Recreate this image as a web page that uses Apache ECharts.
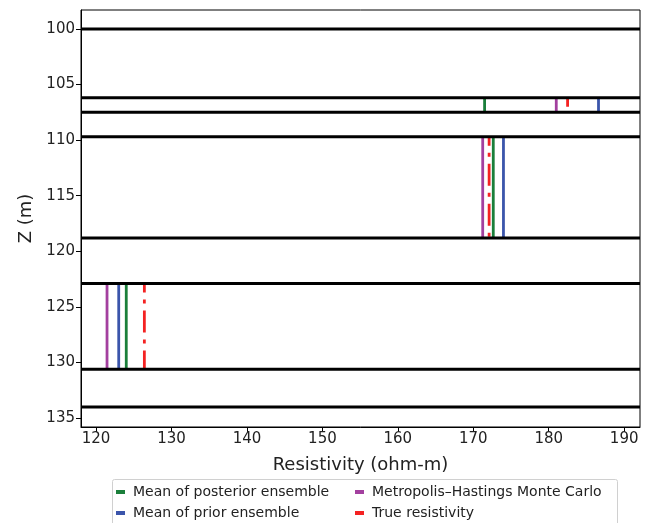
<!DOCTYPE html>
<html>
<head>
<meta charset="utf-8">
<script src="https://cdn.jsdelivr.net/npm/echarts@6/dist/echarts.min.js"></script>
<style>
    html, body { margin: 0; padding: 0; background: #fff; }
    #chart { width: 666px; height: 523px; }
</style>
</head>
<body>
<div id="chart"></div>
<script>
    // layer boundaries (Z, m)
    const boundaries = [100, 106.2, 107.5, 109.7, 118.8, 122.9, 130.6, 134]
    // layers where estimates are plotted: [top, bottom]
    const layers = [[106.2, 107.5], [109.7, 118.8], [122.9, 130.6]]
    // resistivity per layer (ohm-m)
    const posteriorMean = [171.5, 172.65, 124.0]
    const priorMean = [186.6, 174.0, 123.0]
    const mhmc = [181.0, 171.25, 121.45]
    const trueRes = [182.5, 172.1, 126.4]

    const xTicks = [120, 130, 140, 150, 160, 170, 180, 190]
    const yTicks = [100, 105, 110, 115, 120, 125, 130, 135]

    const X_MIN = 118, X_MAX = 192.1
    const FONT = 'DejaVu Sans'

    // build vertical segments, broken with '-' between layers
    function segments(vals) {
        const out = []
        vals.forEach((v, i) => {
            if (i > 0) out.push(['-', '-'])
            out.push([v, layers[i][0]], [v, layers[i][1]])
        })
        return out
    }
    function hLines() {
        const out = []
        boundaries.forEach((z, i) => {
            if (i > 0) out.push(['-', '-'])
            out.push([X_MIN, z], [X_MAX, z])
        })
        return out
    }

    const chart = echarts.init(document.getElementById('chart'))

    function estSeries(name, vals, color, type, offset) {
        return {
            name: name,
            type: 'line',
            data: segments(vals),
            symbol: 'none',
            connectNulls: false,
            animation: false,
            lineStyle: { color: color, width: 2.8, type: type || 'solid', dashOffset: offset || 0 },
            itemStyle: { color: color },
            z: 3
        }
    }

    const legendBase = {
        orient: 'vertical',
        top: 485,
        padding: 0,
        itemWidth: 9, itemHeight: 4, itemGap: 7,
        icon: 'rect',
        textStyle: { fontSize: 14, color: '#222', fontFamily: FONT, padding: [0, 0, 0, 3] }
    }

    const option = {
        animation: false,
        textStyle: { fontFamily: FONT },
        grid: {
            left: 81, right: 26, top: 10, bottom: 96,
            show: true, borderColor: '#000', borderWidth: 1
        },
        xAxis: {
            type: 'value',
            min: X_MIN, max: X_MAX,
            name: 'Resistivity (ohm-m)',
            nameLocation: 'middle',
            nameGap: 29,
            nameTextStyle: { fontSize: 18, color: '#222', fontFamily: FONT },
            axisLine: { show: true, lineStyle: { color: '#000', width: 1 } },
            axisTick: { show: true, length: 5, lineStyle: { color: '#000' }, customValues: xTicks },
            axisLabel: { fontSize: 15, color: '#222', margin: 5, fontFamily: FONT, customValues: xTicks },
            splitLine: { show: false }
        },
        yAxis: {
            type: 'value',
            inverse: true,
            min: 98.3, max: 135.8,
            name: 'Z (m)',
            nameLocation: 'middle',
            nameGap: 44,
            nameRotate: 90,
            nameTextStyle: { fontSize: 18, color: '#222', fontFamily: FONT },
            axisLine: { show: true, lineStyle: { color: '#000', width: 1 } },
            axisTick: { show: true, length: 5, lineStyle: { color: '#000' }, customValues: yTicks },
            axisLabel: { fontSize: 15, color: '#222', margin: 6, fontFamily: FONT, customValues: yTicks },
            splitLine: { show: false }
        },
        legend: [
            Object.assign({}, legendBase, {
                left: 116,
                data: ['Mean of posterior ensemble', 'Mean of prior ensemble']
            }),
            Object.assign({}, legendBase, {
                left: 355,
                data: ['Metropolis–Hastings Monte Carlo', 'True resistivity']
            })
        ],
        graphic: [{
            type: 'rect',
            left: 112, top: 479,
            shape: { width: 505, height: 60, r: 2 },
            style: { fill: '#fff', stroke: '#d0d0d0', lineWidth: 1 },
            z: -1
        }],
        series: [
            estSeries('Mean of posterior ensemble', posteriorMean, '#1b7f3b'),
            estSeries('Mean of prior ensemble', priorMean, '#3b55ab'),
            estSeries('Metropolis–Hastings Monte Carlo', mhmc, '#a3409f'),
            estSeries('True resistivity', trueRes, '#f42222', [22, 7, 4, 7], 13),
            {
                name: 'boundaries',
                type: 'line',
                data: hLines(),
                symbol: 'none',
                connectNulls: false,
                silent: true,
                lineStyle: { color: '#000', width: 3 },
                z: 4
            }
        ]
    }

    chart.setOption(option)
</script>
</body>
</html>
